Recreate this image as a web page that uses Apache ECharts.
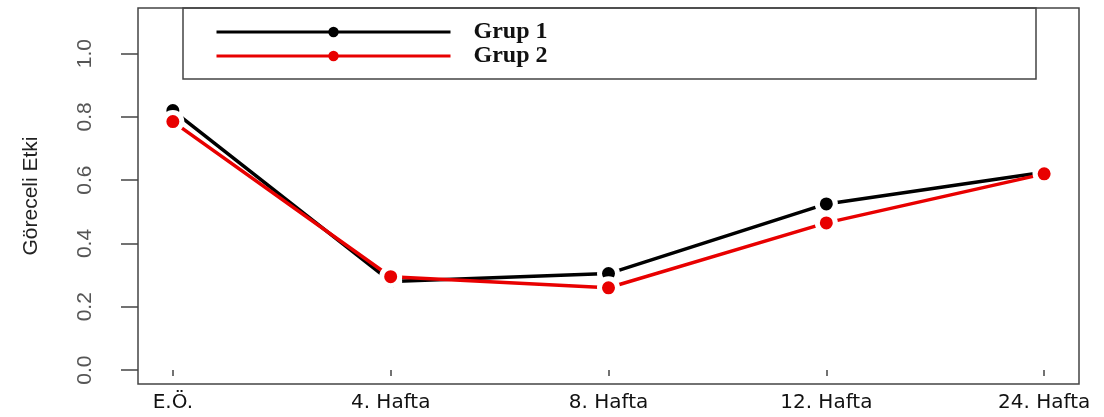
<!DOCTYPE html>
<html>
<head>
<meta charset="utf-8">
<script src="https://cdn.jsdelivr.net/npm/echarts@6/dist/echarts.min.js"></script>
<style>
  html, body { margin: 0; padding: 0; background: #fff; }
  #chart { width: 1104px; height: 417px; }
</style>
</head>
<body>
<div id="chart"></div>
<script>
// zaman noktalari
var categories = ['E.Ö.', '4. Hafta', '8. Hafta', '12. Hafta', '24. Hafta'];
var grup1 = [0.82, 0.28, 0.305, 0.525, 0.625];
var grup2 = [0.785, 0.295, 0.26, 0.465, 0.62];
var yTicks = [0, 0.2, 0.4, 0.6, 0.8, 1.0];
var xTicks = [1, 2, 3, 4, 5];

function toPairs(arr) {
  return arr.map(function (v, i) { return [i + 1, v]; });
}

var chart = echarts.init(document.getElementById('chart'));

function lineSeries(name, color, values) {
  return {
    name: name,
    type: 'line',
    data: toPairs(values),
    symbol: 'circle',
    symbolSize: 18,
    lineStyle: { color: color, width: 3.5 },
    itemStyle: { color: color, borderColor: '#fff', borderWidth: 5 },
    emphasis: { disabled: true },
    animation: false
  };
}

chart.setOption({
  backgroundColor: '#fff',
  grid: {
    left: 138, right: 25, top: 8, bottom: 33,
    show: true, borderColor: '#444', borderWidth: 1.5
  },
  legend: {
    left: 215, top: 20, orient: 'vertical',
    padding: 0, itemWidth: 234, itemHeight: 13, itemGap: 0,
    itemStyle: { borderWidth: 0 },
    lineStyle: { width: 3 },
    textStyle: {
      fontFamily: '"Liberation Serif", "DejaVu Serif", serif',
      fontWeight: 'bold', fontSize: 24, lineHeight: 23,
      color: '#111', padding: [0, 0, 0, 18]
    },
    data: ['Grup 1', 'Grup 2']
  },
  graphic: [{
    type: 'rect',
    shape: { x: 183, y: 8, width: 853, height: 71 },
    style: { fill: 'none', stroke: '#444', lineWidth: 1.5 },
    z: 10
  }],
  xAxis: {
    type: 'value', min: 0.84, max: 5.16,
    axisLine: { show: false },
    splitLine: { show: false },
    axisTick: { show: true, length: 6, customValues: xTicks, lineStyle: { color: '#444', width: 1.5 } },
    axisLabel: {
      customValues: xTicks, margin: 9,
      fontFamily: '"DejaVu Sans", sans-serif', fontSize: 20, color: '#111',
      formatter: function (v) { return categories[Math.round(v) - 1] || ''; }
    }
  },
  yAxis: {
    type: 'value', min: -0.044, max: 1.144,
    name: 'Göreceli Etki', nameLocation: 'middle', nameGap: 96, nameRotate: 90,
    nameTextStyle: { fontFamily: '"Liberation Sans Narrow", "Liberation Sans", sans-serif', fontSize: 21, color: '#222' },
    axisLine: { show: false },
    splitLine: { show: false },
    axisTick: { show: true, length: 17, customValues: yTicks, lineStyle: { color: '#444', width: 1.5 } },
    axisLabel: {
      customValues: yTicks, rotate: 90, margin: 42,
      align: 'center', verticalAlign: 'bottom',
      fontFamily: '"Liberation Sans Narrow", "Liberation Sans", sans-serif', fontSize: 21, color: '#555',
      formatter: function (v) { return v.toFixed(1); }
    }
  },
  series: [
    lineSeries('Grup 1', '#000', grup1),
    lineSeries('Grup 2', '#e80000', grup2)
  ]
});
</script>
</body>
</html>
